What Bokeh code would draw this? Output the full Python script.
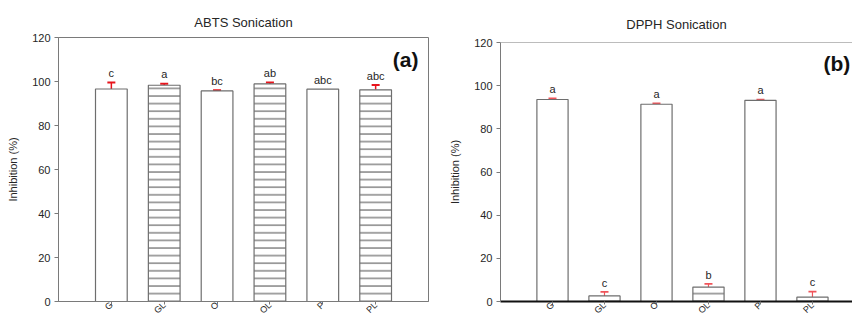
from bokeh.plotting import figure
from bokeh.layouts import row
from bokeh.models import (ColumnDataSource, Whisker, TeeHead, LabelSet, Label,
                          Span, FixedTicker)
from bokeh.core.properties import value
from bokeh.embed import file_html
from bokeh.resources import INLINE

categories = ["G", "GL", "O", "OL", "P", "PL"]

abts_values = [96.6, 98.3, 95.7, 98.9, 96.5, 96.2]
abts_errors = [3.0, 0.7, 0.3, 0.7, 0.0, 2.2]
abts_letters = ["c", "a", "bc", "ab", "abc", "abc"]

dpph_values = [93.6, 2.6, 91.4, 6.7, 93.2, 2.0]
dpph_errors = [0.5, 1.9, 0.4, 1.5, 0.4, 2.6]
dpph_letters = ["a", "c", "a", "b", "a", "c"]

y_ticks = [0, 20, 40, 60, 80, 100, 120]

FONT = "Liberation Sans"
AXIS_GRAY = "#7a7a7a"
TEXT_COLOR = "#262626"


def make_panel(title, tag, values, errors, letters, width, x_end,
               border_left, border_right, border_top, boxed,
               title_standoff, tag_x, tag_y, tag_align, err_color, err_width):
    xs = list(range(1, len(categories) + 1))
    p = figure(width=width, height=322, x_range=(0, x_end), y_range=(0, 120),
               output_backend="svg", toolbar_location=None,
               min_border_left=border_left, min_border_right=border_right,
               min_border_top=border_top, min_border_bottom=18)
    p.frame_align = False
    p.background_fill_color = "white"
    p.border_fill_color = "white"
    p.xgrid.visible = False
    p.ygrid.visible = False

    p.title.text = title
    p.title.align = "center"
    p.title.text_font = FONT
    p.title.text_font_size = "13px"
    p.title.text_font_style = "normal"
    p.title.text_color = TEXT_COLOR
    p.title.standoff = title_standoff

    # y axis
    yax = p.yaxis[0]
    yax.ticker = FixedTicker(ticks=y_ticks)
    yax.minor_tick_line_color = None
    yax.major_tick_in = 0
    yax.major_tick_out = 4
    yax.axis_line_color = AXIS_GRAY
    yax.major_tick_line_color = AXIS_GRAY
    yax.major_label_text_font = FONT
    yax.major_label_text_font_size = "11px"
    yax.major_label_text_color = TEXT_COLOR
    yax.major_label_standoff = 4
    yax.axis_label = "Inhibition (%)"
    yax.axis_label_text_font = FONT
    yax.axis_label_text_font_style = "normal"
    yax.axis_label_text_font_size = "11px"
    yax.axis_label_text_color = TEXT_COLOR
    yax.axis_label_standoff = 10

    # x axis with rotated category labels
    xax = p.xaxis[0]
    xax.ticker = FixedTicker(ticks=xs)
    xax.major_label_overrides = {x: c for x, c in zip(xs, categories)}
    xax.major_label_orientation = 0.785
    xax.major_label_text_font = FONT
    xax.major_label_text_font_size = "9px"
    xax.major_label_text_color = TEXT_COLOR
    xax.major_label_standoff = -1
    xax.minor_tick_line_color = None
    xax.major_tick_in = 0
    xax.major_tick_out = 3
    xax.major_tick_line_color = AXIS_GRAY
    if boxed:
        xax.axis_line_color = AXIS_GRAY
        xax.axis_line_width = 1
        p.outline_line_color = AXIS_GRAY
        p.outline_line_width = 1
    else:
        xax.axis_line_color = "#111111"
        xax.axis_line_width = 2
        p.outline_line_color = None
        p.add_layout(Span(location=120, dimension="width",
                          line_color=AXIS_GRAY, line_width=1))

    hatches = ["horizontal_line" if c.endswith("L") else "blank"
               for c in categories]
    src = ColumnDataSource(dict(x=xs, top=values, hatch=hatches))
    p.vbar(x="x", top="top", width=0.6, source=src,
           fill_color="white", line_color="#6e6e6e", line_width=1.2,
           hatch_pattern="hatch", hatch_color="#4a4a4a",
           hatch_scale=7.6, hatch_weight=1)

    # error bars (upper only)
    ex = [x for x, e in zip(xs, errors) if e > 0]
    elo = [v for v, e in zip(values, errors) if e > 0]
    eup = [v + e for v, e in zip(values, errors) if e > 0]
    esrc = ColumnDataSource(dict(x=ex, lower=elo, upper=eup))
    p.add_layout(Whisker(base="x", lower="lower", upper="upper", source=esrc,
                         line_color=err_color, line_width=err_width,
                         upper_head=TeeHead(size=8, line_color=err_color,
                                            line_width=err_width + 0.5),
                         lower_head=None))

    # significance letters
    ly = [v + e + 4.3 for v, e in zip(values, errors)]
    lsrc = ColumnDataSource(dict(x=xs, y=ly, t=letters))
    p.add_layout(LabelSet(x="x", y="y", text="t", source=lsrc,
                          text_align="center", text_baseline="middle",
                          text_font=value(FONT), text_font_size="11px",
                          text_color=TEXT_COLOR))

    # panel tag
    p.add_layout(Label(x=tag_x, y=tag_y, text=tag, text_align=tag_align,
                       text_baseline="middle", text_font=FONT,
                       text_font_size="21px", text_font_style="bold",
                       text_color="#111111"))
    return p


p1 = make_panel("ABTS Sonication", "(a)", abts_values, abts_errors,
                abts_letters, width=440, x_end=7, border_left=58,
                border_right=12, border_top=37, boxed=True,
                title_standoff=16, tag_x=6.81, tag_y=110, tag_align="right",
                err_color="#e8141c", err_width=1.5)
p2 = make_panel("DPPH Sonication", "(b)", dpph_values, dpph_errors,
                dpph_letters, width=412, x_end=6.77, border_left=60,
                border_right=0, border_top=42, boxed=False,
                title_standoff=21, tag_x=6.21, tag_y=110.5, tag_align="left",
                err_color="#f0545a", err_width=1.2)

layout = row(p1, p2)
open("out.html", "w").write(file_html(layout, INLINE))
